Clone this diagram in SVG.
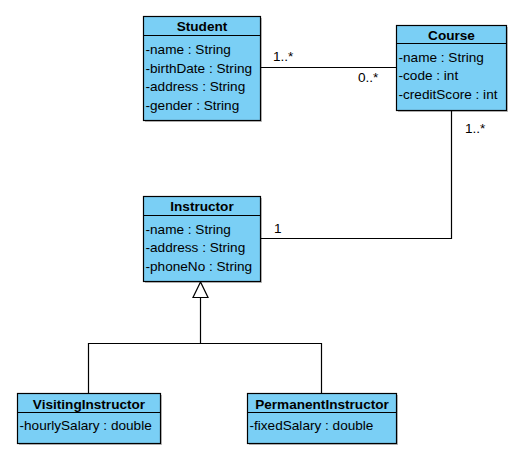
<svg xmlns="http://www.w3.org/2000/svg" width="520" height="464" viewBox="0 0 520 464">
<style>
.box{fill:#7ACFF5;stroke:#000;stroke-width:1.2}
.shadow{fill:#000;opacity:0.25}
.sep{stroke:#000;stroke-width:1.2}
.title{font-family:"Liberation Sans",Arial,sans-serif;font-size:13.6px;font-weight:bold;text-anchor:middle;fill:#000}
.attr{font-family:"Liberation Sans",Arial,sans-serif;font-size:13.6px;fill:#000}
.lbl{font-family:"Liberation Sans",Arial,sans-serif;font-size:13.6px;fill:#000}
.conn{fill:none;stroke:#000;stroke-width:1.2}
</style>
<rect width="520" height="464" fill="#fff"/>
<g id="connectors">
<path class="conn" d="M260.5,67.5 H396.5"/>
<path class="conn" d="M451.5,110.5 V238.5 H260.5"/>
<path class="conn" d="M200.5,297.5 V343.5"/>
<path class="conn" d="M88.5,393.5 V343.5 H321.5 V393.5"/>
<polygon points="200.5,282 193,297.5 208,297.5" fill="#fff" stroke="#000" stroke-width="1.2"/>
<text class="lbl" x="273" y="60.5">1..*</text>
<text class="lbl" x="358" y="81.5">0..*</text>
<text class="lbl" x="465" y="133">1..*</text>
<text class="lbl" x="274" y="233">1</text>
</g>
<g id="student">
<rect class="shadow" x="145" y="18" width="117" height="104"/>
<rect class="box" x="143.5" y="16.5" width="117" height="104"/>
<line class="sep" x1="143.5" y1="35.5" x2="260.5" y2="35.5"/>
<text class="title" x="202" y="30.5">Student</text>
<text class="attr" x="145.5" y="54">-name : String</text>
<text class="attr" x="145.5" y="72.5">-birthDate : String</text>
<text class="attr" x="145.5" y="91">-address : String</text>
<text class="attr" x="145.5" y="109.5">-gender : String</text>
</g>
<g id="course">
<rect class="shadow" x="398" y="27" width="110" height="85"/>
<rect class="box" x="396.5" y="25.5" width="110" height="85"/>
<line class="sep" x1="396.5" y1="43.5" x2="506.5" y2="43.5"/>
<text class="title" x="451.5" y="39.5">Course</text>
<text class="attr" x="398.5" y="61.5">-name : String</text>
<text class="attr" x="398.5" y="80">-code : int</text>
<text class="attr" x="398.5" y="98.5">-creditScore : int</text>
</g>
<g id="instructor">
<rect class="shadow" x="145" y="198" width="117" height="85"/>
<rect class="box" x="143.5" y="196.5" width="117" height="85"/>
<line class="sep" x1="143.5" y1="215.5" x2="260.5" y2="215.5"/>
<text class="title" x="202" y="210.5">Instructor</text>
<text class="attr" x="145.5" y="233.5">-name : String</text>
<text class="attr" x="145.5" y="252">-address : String</text>
<text class="attr" x="145.5" y="270.5">-phoneNo : String</text>
</g>
<g id="visitingInstructor">
<rect class="shadow" x="19" y="395" width="143" height="50"/>
<rect class="box" x="17.5" y="393.5" width="143" height="50"/>
<line class="sep" x1="17.5" y1="412.5" x2="160.5" y2="412.5"/>
<text class="title" x="89" y="408.5">VisitingInstructor</text>
<text class="attr" x="19.5" y="430">-hourlySalary : double</text>
</g>
<g id="permanentInstructor">
<rect class="shadow" x="249" y="395" width="149" height="50"/>
<rect class="box" x="247.5" y="393.5" width="149" height="50"/>
<line class="sep" x1="247.5" y1="412.5" x2="396.5" y2="412.5"/>
<text class="title" x="322" y="408.5">PermanentInstructor</text>
<text class="attr" x="249.5" y="430">-fixedSalary : double</text>
</g>
</svg>
